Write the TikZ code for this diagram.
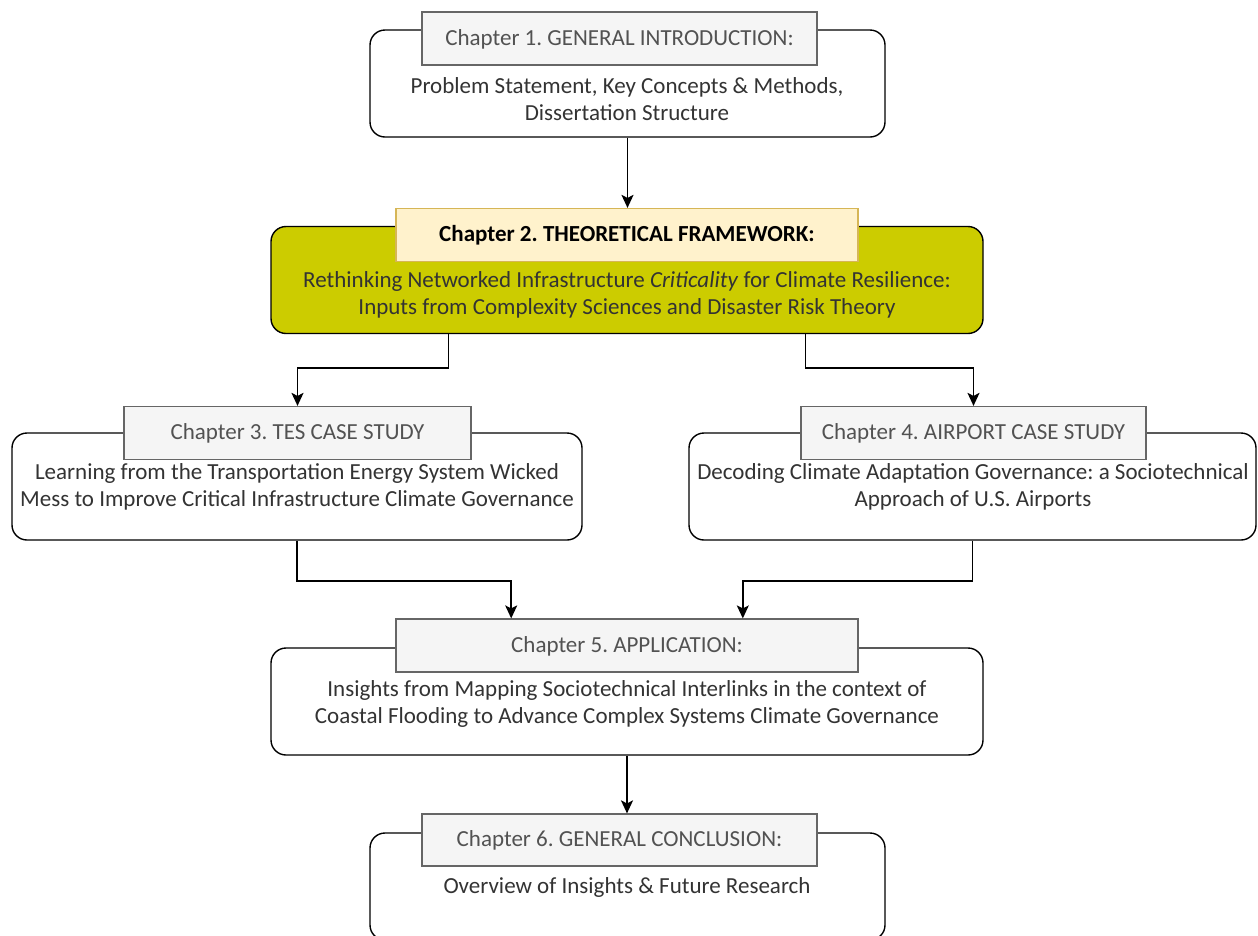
\documentclass[tikz,border=0pt]{standalone}
\usepackage{fontspec}
\setmainfont{Carlito}
\usetikzlibrary{arrows.meta,calc}
\definecolor{olivefill}{HTML}{CCCC00}
\definecolor{notefill}{HTML}{FFF2CC}
\definecolor{notedraw}{HTML}{D6B656}
\definecolor{headfill}{HTML}{F5F5F5}
\definecolor{headdraw}{HTML}{666666}
\definecolor{ink}{HTML}{333333}
\frenchspacing
\begin{document}
\begin{tikzpicture}[x=1pt,y=-1pt,
  panel/.style={draw=black, line width=1.4pt, rounded corners=15pt, fill=white,
    inner sep=0pt, minimum height=107pt},
  heading/.style={draw=headdraw, line width=1.2pt, fill=headfill, text=ink!85!white,
    inner sep=0pt, text height=17pt, text depth=4pt, minimum height=53pt,
    font=\fontsize{23}{27.5}\selectfont},
  body/.style={align=center, text=ink, inner sep=0pt, font=\fontsize{23}{27.5}\selectfont},
  link/.style={draw=black, line width=1.6pt, -{Stealth[length=13pt,width=12pt,inset=3pt]}}]
\useasboundingbox (0,0) rectangle (1258,935);
\clip (0,0) rectangle (1258,935);

% chapter panels
\node[panel, minimum width=515pt] (b1) at (627.5,83.5) {};
\node[panel, minimum width=712pt, fill=olivefill] (b2) at (627,280) {};
\node[panel, minimum width=570pt] (b3) at (297,486.5) {};
\node[panel, minimum width=567pt] (b4) at (972.5,486.5) {};
\node[panel, minimum width=712pt] (b5) at (627,701.5) {};
\node[panel, minimum width=515pt] (b6) at (627.5,886.5) {};

% panel descriptions
\node[body] (t1) at (627,99) {Problem Statement, Key Concepts \& Methods,\\Dissertation Structure};
\node[body] (t2) at (627,295) {Rethinking Networked Infrastructure \textit{Criticality} for Climate Resilience:\\Inputs from Complexity Sciences and Disaster Risk Theory};
\node[body] (t3) at (297,487) {Learning from the Transportation Energy System Wicked\\Mess to Improve Critical Infrastructure Climate Governance};
\node[body] (t4) at (973,487) {Decoding Climate Adaptation Governance: a Sociotechnical\\Approach of U.S. Airports};
\node[body] (t5) at (627,704) {Insights from Mapping Sociotechnical Interlinks in the context of\\Coastal Flooding to Advance Complex Systems Climate Governance};
\node[body] (t6) at (627,887) {Overview of Insights \& Future Research};

% chapter headings
\node[heading, minimum width=395pt] (h1) at (619.5,38.5) {Chapter 1. GENERAL INTRODUCTION:};
\node[heading, minimum width=462pt, draw=notedraw, fill=notefill, text=black,
  font=\fontsize{23}{27.5}\selectfont\bfseries] (h2) at (627,235) {Chapter 2. THEORETICAL FRAMEWORK:};
\node[heading, minimum width=347pt] (h3) at (297.5,433) {Chapter 3. TES CASE STUDY};
\node[heading, minimum width=345pt] (h4) at (973.5,433) {Chapter 4. AIRPORT CASE STUDY};
\node[heading, minimum width=462pt] (h5) at (627,645.5) {Chapter 5. APPLICATION:};
\node[heading, minimum width=395pt, minimum height=52pt] (h6) at (619.5,840) {Chapter 6. GENERAL CONCLUSION:};

% connectors
\draw[link] (b1.south) -- (b1.south |- h2.north);
\draw[link] ($(b2.south west)!0.25!(b2.south east)$) -- ++(0,34) -| (h3.north);
\draw[link] ($(b2.south west)!0.75!(b2.south east)$) -- ++(0,34) -| (h4.north);
\draw[link] (b3.south) -- ++(0,40) -| ($(h5.north west)!0.25!(h5.north east)$);
\draw[link] (b4.south) -- ++(0,40) -| ($(h5.north west)!0.75!(h5.north east)$);
\draw[link] (b5.south) -- (b5.south |- h6.north);
\end{tikzpicture}
\end{document}
